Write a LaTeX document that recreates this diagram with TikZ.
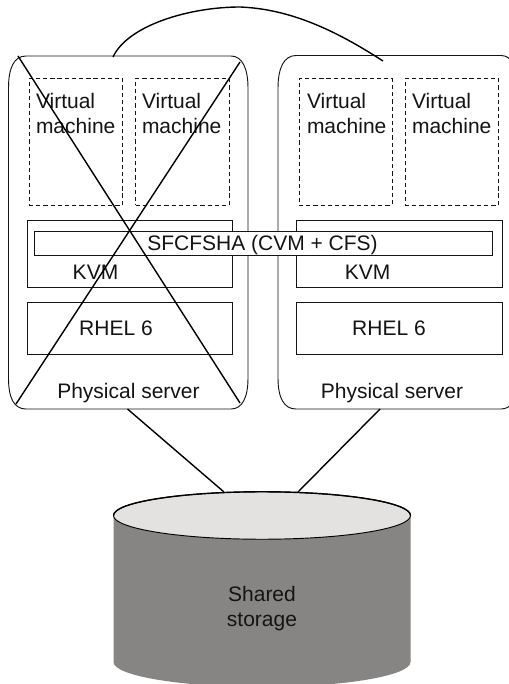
\documentclass[tikz,border=0pt]{standalone}
\usepackage{fontspec}
\setmainfont{Liberation Sans}
\usetikzlibrary{fit,shapes.geometric}
\definecolor{inkc}{HTML}{141414}
\definecolor{storagegrey}{HTML}{878583}
\definecolor{storagetop}{HTML}{E3E2E1}
\tikzset{
  x=0.75pt,y=-0.75pt,
  every node/.style={font=\fontsize{15.75pt}{18.75pt}\selectfont,text=inkc,inner sep=0pt,outer sep=0pt},
  thinline/.style={draw=inkc,line width=0.7pt},
  heavyline/.style={draw=black,line width=1.05pt},
  vmbox/.style={fit={#1},draw=inkc,line width=0.6pt,dash pattern=on 3.2pt off 2.2pt},
  layerbox/.style={fit={#1},thinline},
  barbox/.style={fit={#1},thinline,fill=white},
  vmtext/.style={align=left,anchor=west},
  label/.style={anchor=base},
}
\begin{document}
\begin{tikzpicture}
\useasboundingbox (0,0) rectangle (509,684);
\clip (0,0) rectangle (509,684);
\fill[white] (0,0) rectangle (509,684);
% named connector ends
\coordinate (arcA) at (113,57);
\coordinate (arcB) at (383,61);
\coordinate (xA) at (18,56);
\coordinate (xB) at (240,403);
\coordinate (xC) at (240,62);
\coordinate (xD) at (16,404);
\coordinate (s1) at (127.5,409);
\coordinate (s2) at (380,409);
\coordinate (d1) at (224,492);
\coordinate (d2) at (298,492);
% servers
\draw[thinline] (26,56) -- (231,56) .. controls (242,56) and (248,68) .. (248,88) -- (248,378)
  .. controls (248,398) and (242,409) .. (231,409) -- (26,409)
  .. controls (14,409) and (8.5,398) .. (8.5,378) -- (8.5,88)
  .. controls (8.5,68) and (14,56) .. (26,56) -- cycle;
\draw[thinline] (296,55.5) -- (501,55.5) .. controls (512,55.5) and (518,68) .. (518,88) -- (518,378)
  .. controls (518,398) and (512,409) .. (501,409) -- (296,409)
  .. controls (284,409) and (278,398) .. (278,378) -- (278,88)
  .. controls (278,68) and (284,55.5) .. (296,55.5) -- cycle;
% virtual machines
\node[vmbox={(29,78.5) (122.5,205)}] (vm1) {};
\node[vmbox={(135.5,78.5) (229,205)}] (vm2) {};
\node[vmbox={(299,78.5) (392,205)}] (vm3) {};
\node[vmbox={(405,78.5) (498.5,205)}] (vm4) {};
\node[vmtext] (vmt1) at (36,113) {Virtual\\machine};
\node[vmtext] (vmt2) at (142,113) {Virtual\\machine};
\node[vmtext] (vmt3) at (307,113) {Virtual\\machine};
\node[vmtext] (vmt4) at (412,113) {Virtual\\machine};
% layers
\node[layerbox={(27,220.5) (232.5,287)}] (kvm1) {};
\node[layerbox={(296.5,220) (502,287)}] (kvm2) {};
\node[layerbox={(27,302.5) (232.5,354.5)}] (rhel1) {};
\node[layerbox={(296.5,302.5) (502,354.5)}] (rhel2) {};
\node[barbox={(34,231) (492,255)}] (bar) {};
\node[label] (bart) at (262.5,250) {SFCFSHA (CVM + CFS)};
\node[label] (kvmt1) at (95.5,279) {KVM};
\node[label] (kvmt2) at (367.5,279) {KVM};
\node[label] (rhelt1) at (116,335) {RHEL 6};
\node[label] (rhelt2) at (389,335) {RHEL 6};
\node[label] (phys1) at (128.5,398) {Physical server};
\node[label] (phys2) at (392,398) {Physical server};
% storage
\fill[storagegrey] (113.5,515.5) -- (113.5,662) .. controls (113.5,675.75) and (180.3,687) .. (262,687)
  .. controls (343.7,687) and (410.5,675.75) .. (410.5,662) -- (410.5,515.5) -- cycle;
\node[ellipse,fill=storagetop,draw=black,line width=0.7pt,minimum width=222.75pt,minimum height=35.6pt] (storage) at (262,515.5) {};
\draw[heavyline] (storage.west) arc[start angle=180,end angle=0,x radius=111.4pt,y radius=17.8pt];
\node[align=center] (storaget) at (262,609) {Shared\\storage};
% connectors
\draw[heavyline] (arcA) .. controls (128,25) and (190,7) .. (240,7) .. controls (290,9) and (335,30) .. (arcB);
\draw[heavyline] (xA) -- (xB);
\draw[heavyline] (xC) -- (xD);
\draw[heavyline] (s1) -- (d1);
\draw[heavyline] (s2) -- (d2);
\end{tikzpicture}
\end{document}
